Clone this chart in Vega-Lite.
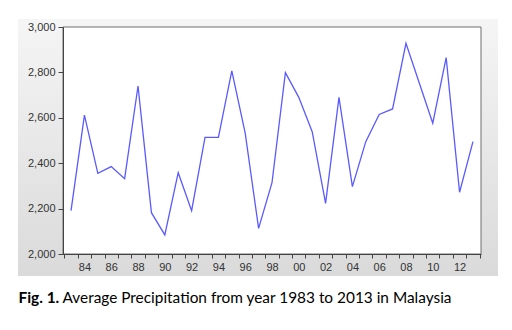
{
  "$schema": "https://vega.github.io/schema/vega-lite/v6.json",
  "width": 418,
  "height": 227,
  "autosize": "none",
  "padding": {"left": 63, "top": 27, "right": 31, "bottom": 76},
  "background": "white",
  "config": {"view": {"stroke": null, "fill": "white"}},
  "data": {
    "values": [
      {"year": 1983, "precip": 2191},
      {"year": 1984, "precip": 2612},
      {"year": 1985, "precip": 2355},
      {"year": 1986, "precip": 2385},
      {"year": 1987, "precip": 2332},
      {"year": 1988, "precip": 2740},
      {"year": 1989, "precip": 2182},
      {"year": 1990, "precip": 2084},
      {"year": 1991, "precip": 2358},
      {"year": 1992, "precip": 2191},
      {"year": 1993, "precip": 2514},
      {"year": 1994, "precip": 2514},
      {"year": 1995, "precip": 2807},
      {"year": 1996, "precip": 2532},
      {"year": 1997, "precip": 2113},
      {"year": 1998, "precip": 2314},
      {"year": 1999, "precip": 2799},
      {"year": 2000, "precip": 2690},
      {"year": 2001, "precip": 2539},
      {"year": 2002, "precip": 2223},
      {"year": 2003, "precip": 2690},
      {"year": 2004, "precip": 2297},
      {"year": 2005, "precip": 2495},
      {"year": 2006, "precip": 2615},
      {"year": 2007, "precip": 2639},
      {"year": 2008, "precip": 2928},
      {"year": 2009, "precip": 2752},
      {"year": 2010, "precip": 2576},
      {"year": 2011, "precip": 2865},
      {"year": 2012, "precip": 2272},
      {"year": 2013, "precip": 2495}
    ]
  },
  "layer": [
    {
      "data": {"values": [{}]},
      "mark": {
        "type": "rect",
        "color": {
          "gradient": "linear",
          "x1": 0, "y1": 0, "x2": 0, "y2": 1,
          "stops": [
            {"offset": 0, "color": "#f5f5f5"},
            {"offset": 1, "color": "#dadada"}
          ]
        }
      },
      "encoding": {
        "x": {
          "datum": 1979.04,
          "type": "quantitative",
          "scale": {"domain": [1982.4, 2013.6], "nice": false, "zero": false},
          "axis": {
            "values": [1982.5, 1983.5, 1984.5, 1985.5, 1986.5, 1987.5, 1988.5, 1989.5, 1990.5, 1991.5, 1992.5, 1993.5, 1994.5, 1995.5, 1996.5, 1997.5, 1998.5, 1999.5, 2000.5, 2001.5, 2002.5, 2003.5, 2004.5, 2005.5, 2006.5, 2007.5, 2008.5, 2009.5, 2010.5, 2011.5, 2012.5, 2013.5],
            "tickCount": 40,
            "labelExpr": "((datum.value + 0.5) % 2 == 0 && datum.value < 2013) ? substring(toString(datum.value + 0.5), 2) : ''",
            "labelOffset": 6.7,
            "labelOverlap": false,
            "labelFlush": false,
            "tickSize": 4,
            "tickColor": "#444444",
            "domainColor": "#444444",
            "labelFont": "Liberation Sans",
            "labelFontSize": 11,
            "labelColor": "#333333",
            "labelPadding": 3,
            "grid": false,
            "zindex": 1,
            "title": "Average Precipitation from year 1983 to 2013 in Malaysia",
            "titleFont": "Lato",
            "titleFontSize": 15.4,
            "titleFontWeight": "normal",
            "titleColor": "#000000",
            "titleX": -1,
            "titleY": 48,
            "titleAlign": "left",
            "titleBaseline": "alphabetic"
          }
        },
        "x2": {"datum": 2014.87},
        "y": {
          "datum": 3035.2,
          "type": "quantitative",
          "scale": {"domain": [2000, 3000], "nice": false, "zero": false},
          "axis": {
            "values": [2000, 2200, 2400, 2600, 2800, 3000],
            "tickCount": 10,
            "format": ",d",
            "tickSize": 5,
            "tickColor": "#444444",
            "domainColor": "#444444",
            "labelFont": "Liberation Sans",
            "labelFontSize": 11,
            "labelColor": "#333333",
            "labelPadding": 3,
            "labelFlush": false,
            "grid": false,
            "zindex": 1,
            "title": "Fig. 1.",
            "titleFont": "Lato",
            "titleFontSize": 15.4,
            "titleFontWeight": "bold",
            "titleColor": "#000000",
            "titleAngle": 0,
            "titleX": -45,
            "titleY": 275,
            "titleAlign": "left",
            "titleBaseline": "alphabetic"
          }
        },
        "y2": {"datum": 1903.1}
      }
    },
    {
      "data": {"values": [{}]},
      "mark": {"type": "rect", "fill": "white", "stroke": "#6e6e6e", "strokeWidth": 1},
      "encoding": {
        "x": {"datum": 1982.4, "type": "quantitative"},
        "x2": {"datum": 2013.6},
        "y": {"datum": 3000, "type": "quantitative"},
        "y2": {"datum": 2000}
      }
    },
    {
      "mark": {"type": "line", "color": "#5a5aff", "strokeWidth": 1.3},
      "encoding": {
        "x": {"field": "year", "type": "quantitative"},
        "y": {"field": "precip", "type": "quantitative"}
      }
    }
  ]
}
